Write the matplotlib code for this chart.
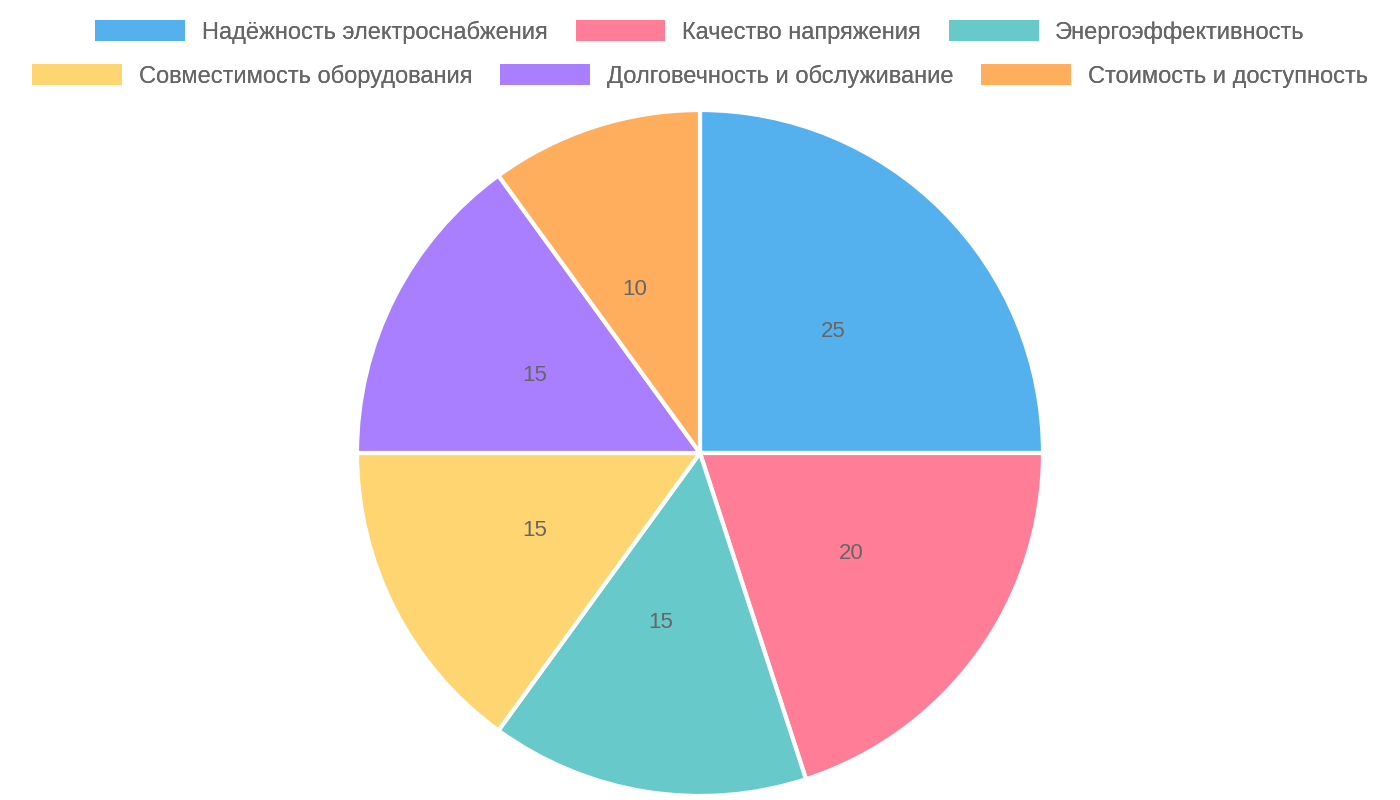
import matplotlib
matplotlib.use("Agg")
import matplotlib.pyplot as plt
from matplotlib.patches import Patch

labels = ["Надёжность электроснабжения", "Качество напряжения", "Энергоэффективность",
          "Совместимость оборудования", "Долговечность и обслуживание", "Стоимость и доступность"]
values = [25, 20, 15, 15, 15, 10]
colors = ["#55B0EE", "#FF7D97", "#67C9C9", "#FFD572", "#A97FFF", "#FFAE5E"]

plt.rcParams['font.family'] = ['Liberation Sans', 'DejaVu Sans']
fig = plt.figure(figsize=(14, 8), dpi=100)
ax = fig.add_axes([357/1400, 4/800, 686/1400, 686/800])
wedges, texts = ax.pie(values, colors=colors, startangle=90, counterclock=False,
                       labels=[str(v) for v in values], labeldistance=0.5,
                       wedgeprops=dict(edgecolor="white", linewidth=3),
                       textprops=dict(color="#666666", fontsize=16))
ax.set_xlim(-1, 1); ax.set_ylim(-1, 1); ax.set_aspect('equal')
ax.axis('off')

def row(idx, y):
    handles = [Patch(facecolor=colors[i], edgecolor='none', label=labels[i]) for i in idx]
    leg = fig.legend(handles=handles, loc='center', bbox_to_anchor=(0.5, y), ncol=len(idx),
                     frameon=False, fontsize=17, handlelength=3.8, handleheight=1.0,
                     columnspacing=1.2, handletextpad=0.7, labelcolor="#666666")
    fig.add_artist(leg)

row([0, 1, 2], 1 - 32/800)
row([3, 4, 5], 1 - 76/800)
fig.savefig("out.png")
